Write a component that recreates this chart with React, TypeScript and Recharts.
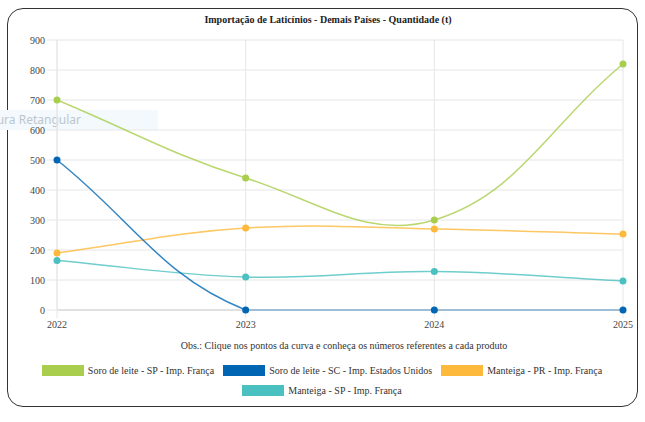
import React from "react";
import { LineChart, Line, XAxis, YAxis, CartesianGrid, ReferenceLine } from "recharts";

const years = ["2022", "2023", "2024", "2025"];
const soroSP = [700, 440, 300, 820];
const soroSC = [500, 0, 0, 0];
const manteigaPR = [190, 273, 270, 253];
const manteigaSP = [165, 110, 128, 97];
const yTicks = [0, 100, 200, 300, 400, 500, 600, 700, 800, 900];

const series = [
  { key: "soroSP", name: "Soro de leite - SP - Imp. França", color: "#a9cd4c", values: soroSP },
  { key: "soroSC", name: "Soro de leite - SC - Imp. Estados Unidos", color: "#0066b3", values: soroSC },
  { key: "manteigaPR", name: "Manteiga - PR - Imp. França", color: "#fdb93b", values: manteigaPR },
  { key: "manteigaSP", name: "Manteiga - SP - Imp. França", color: "#4bc0c0", values: manteigaSP },
];

const data = years.map((y, i) => {
  const row: any = { year: y };
  series.forEach((s) => (row[s.key] = s.values[i]));
  return row;
});

const W = 645;
const H = 340;
const M = { top: 40, right: 22, left: 0, bottom: 0 };
const Y_AXIS_W = 57;
const X_AXIS_H = 30;
const area = {
  left: M.left + Y_AXIS_W,
  right: W - M.right,
  top: M.top,
  bottom: H - M.bottom - X_AXIS_H,
};

// Chart.js style spline (tension 0.4), control points capped to the plot area
function chartJsCurve(context: any) {
  let pts: [number, number][] = [];
  const clamp = (v: number, a: number, b: number) => Math.max(a, Math.min(b, v));
  return {
    areaStart() {},
    areaEnd() {},
    lineStart() {
      pts = [];
    },
    point(x: number, y: number) {
      pts.push([+x, +y]);
    },
    lineEnd() {
      if (!pts.length) return;
      const t = 0.4;
      const cps = pts.map((cur, i) => {
        const prev = i > 0 ? pts[i - 1] : cur;
        const next = i < pts.length - 1 ? pts[i + 1] : cur;
        const d01 = Math.hypot(cur[0] - prev[0], cur[1] - prev[1]);
        const d12 = Math.hypot(next[0] - cur[0], next[1] - cur[1]);
        let s01 = d01 / (d01 + d12);
        let s12 = d12 / (d01 + d12);
        if (isNaN(s01)) s01 = 0;
        if (isNaN(s12)) s12 = 0;
        const fa = t * s01;
        const fb = t * s12;
        const p = [cur[0] - fa * (next[0] - prev[0]), cur[1] - fa * (next[1] - prev[1])];
        const n = [cur[0] + fb * (next[0] - prev[0]), cur[1] + fb * (next[1] - prev[1])];
        p[0] = clamp(p[0], area.left, area.right);
        n[0] = clamp(n[0], area.left, area.right);
        p[1] = clamp(p[1], area.top, area.bottom);
        n[1] = clamp(n[1], area.top, area.bottom);
        return { p, n };
      });
      context.moveTo(pts[0][0], pts[0][1]);
      for (let i = 1; i < pts.length; i++) {
        context.bezierCurveTo(cps[i - 1].n[0], cps[i - 1].n[1], cps[i].p[0], cps[i].p[1], pts[i][0], pts[i][1]);
      }
    },
  };
}

const serif = "'Liberation Serif', 'Times New Roman', serif";
const gridColor = "#e6e6e6";

export default function App() {
  return (
    <div style={{ position: "absolute", left: 0, top: 0, width: 645, height: 422, background: "#fff", fontFamily: serif }}>
      <div
        style={{
          position: "absolute",
          left: 7,
          top: 8,
          width: 629,
          height: 397,
          border: "1px solid #333",
          borderRadius: 16,
        }}
      />
      {/* leftover page element peeking out behind the chart */}
      <div
        style={{
          position: "absolute",
          left: 0,
          top: 110,
          width: 158,
          height: 20,
          background: "#f3f9fd",
          overflow: "hidden",
          fontFamily: "'Noto Sans', 'Open Sans', sans-serif",
          fontSize: 12,
          color: "#bcc6ce",
          lineHeight: "20px",
          whiteSpace: "nowrap",
        }}
      >
        <span style={{ marginLeft: -20 }}>Figura Retangular</span>
      </div>
      <div
        style={{
          position: "absolute",
          left: 0,
          top: 14,
          width: 656,
          textAlign: "center",
          fontSize: 10,
          fontWeight: "bold",
          color: "#222",
        }}
      >
        Importação de Laticínios - Demais Países - Quantidade (t)
      </div>
      <div style={{ position: "absolute", left: 0, top: 0 }}>
        <LineChart width={W} height={H} data={data} margin={M}>
          <CartesianGrid stroke={gridColor} />
          <XAxis
            dataKey="year"
            height={X_AXIS_H}
            stroke={gridColor}
            tickSize={8}
            tickMargin={3}
            tick={{ fontSize: 10, fill: "#444", fontFamily: serif }}
            interval={0}
          />
          <YAxis
            width={Y_AXIS_W}
            domain={[0, 900]}
            ticks={yTicks}
            stroke={gridColor}
            tickSize={10}
            tickMargin={2}
            tick={{ fontSize: 10, fill: "#444", fontFamily: serif }}
            interval={0}
          />
          <ReferenceLine y={0} stroke="#dcdcdc" strokeWidth={2} />
          {series
            .slice()
            .reverse()
            .map((s) => (
              <Line
                key={s.key}
                dataKey={s.key}
                name={s.name}
                type={chartJsCurve as any}
                stroke={s.color}
                strokeOpacity={0.8}
                strokeWidth={1.5}
                dot={{ r: 3.5, fill: s.color, stroke: s.color, strokeWidth: 0 }}
                isAnimationActive={false}
              />
            ))}
        </LineChart>
      </div>
      <div
        style={{
          position: "absolute",
          left: 0,
          top: 340,
          width: 688,
          textAlign: "center",
          fontSize: 10,
          color: "#333",
        }}
      >
        Obs.: Clique nos pontos da curva e conheça os números referentes a cada produto
      </div>
      <div
        style={{
          position: "absolute",
          left: 24,
          top: 364,
          width: 605,
          display: "flex",
          flexWrap: "wrap",
          justifyContent: "center",
          rowGap: 7,
          fontSize: 10,
          color: "#333",
        }}
      >
        {series.map((s) => (
          <div key={s.key} style={{ display: "flex", alignItems: "center", marginRight: 9, height: 13 }}>
            <div
              style={{
                width: 40,
                height: 9,
                background: s.color,
                border: "1px solid " + s.color,
                marginRight: 4,
              }}
            />
            <span>{s.name}</span>
          </div>
        ))}
      </div>
    </div>
  );
}
